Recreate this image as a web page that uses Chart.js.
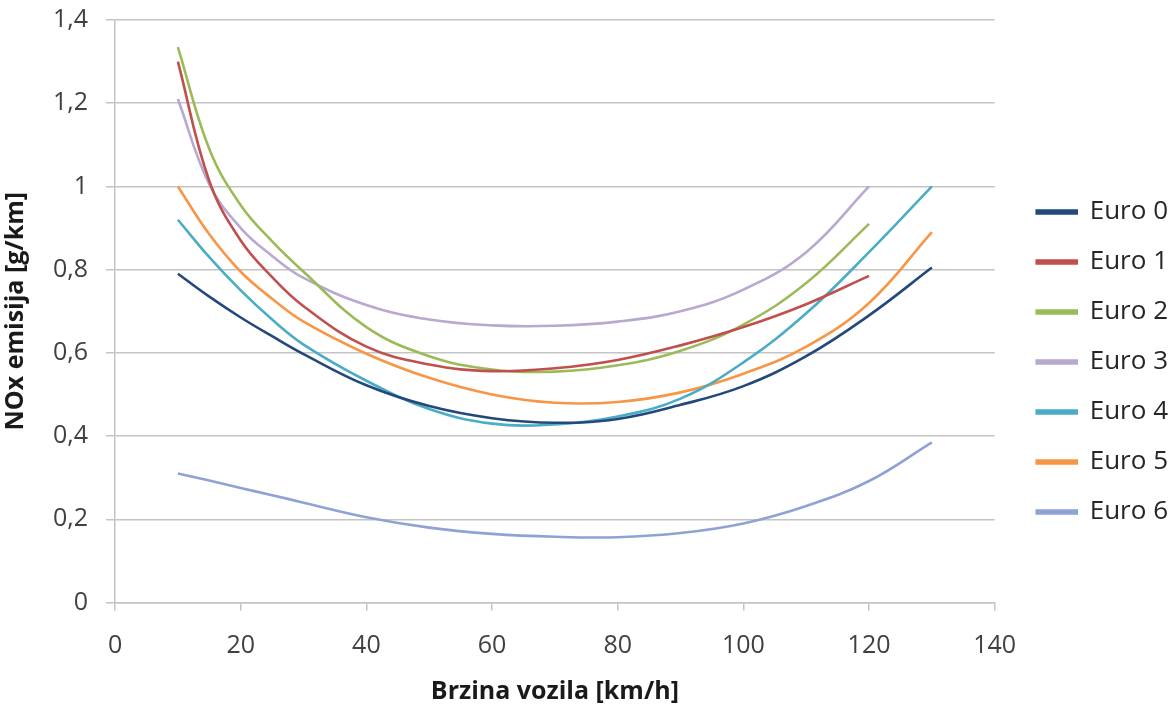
<!DOCTYPE html>
<html>
<head>
<meta charset="utf-8">
<script src="https://cdn.jsdelivr.net/npm/chart.js@4/dist/chart.umd.min.js"></script>
<style>
	html, body { margin: 0; padding: 0; background: #fff; }
	#wrap { width: 1176px; height: 704px; }
</style>
</head>
<body>
<div id="wrap"><canvas id="chart" width="1176" height="704"></canvas></div>
<script>
// speeds in km/h (x values)
const speeds = [10, 15, 20, 25, 30, 40, 50, 60, 70, 80, 90, 100, 110, 120, 130];

// NOx emission in g/km
const euro0 = [0.79, 0.735, 0.685, 0.64, 0.597, 0.522, 0.472, 0.443, 0.432, 0.441, 0.475, 0.52, 0.592, 0.69, 0.805];
const euro1 = [1.3, 1.013, 0.87, 0.782, 0.712, 0.615, 0.572, 0.556, 0.563, 0.583, 0.618, 0.662, 0.717, 0.785];
const euro2 = [1.335, 1.09, 0.955, 0.868, 0.795, 0.662, 0.592, 0.56, 0.555, 0.57, 0.605, 0.668, 0.768, 0.91];
const euro3 = [1.21, 1.005, 0.9, 0.833, 0.78, 0.715, 0.68, 0.666, 0.665, 0.675, 0.7, 0.752, 0.842, 1.0];
const euro4 = [0.92, 0.83, 0.75, 0.68, 0.62, 0.533, 0.465, 0.43, 0.428, 0.447, 0.49, 0.577, 0.695, 0.842, 1.0];
const euro5 = [1.0, 0.885, 0.795, 0.73, 0.675, 0.598, 0.54, 0.5, 0.48, 0.482, 0.505, 0.55, 0.615, 0.72, 0.89];
const euro6 = [0.31, 0.293, 0.275, 0.258, 0.24, 0.205, 0.18, 0.165, 0.158, 0.157, 0.167, 0.19, 0.232, 0.292, 0.385];

const seriesNames = ["Euro 0", "Euro 1", "Euro 2", "Euro 3", "Euro 4", "Euro 5", "Euro 6"];
const seriesValues = [euro0, euro1, euro2, euro3, euro4, euro5, euro6];
const seriesColors = ["#22497A", "#C0504D", "#9BBB59", "#B9A8D0", "#4BACC6", "#F79646", "#8FA2D4"];

const xTicks = [0, 140, 20];   // min, max, step
const yTicks = [0, 1.4, 0.2];

const formatComma = (v) => String(Math.round(v * 10) / 10).replace(".", ",");

const buildDatasets = () => {
	return seriesNames.map((name, i) => {
		const values = seriesValues[i];
		return {
			label: name,
			data: values.map((v, j) => ({ x: speeds[j], y: v })),
			borderColor: seriesColors[i],
			backgroundColor: seriesColors[i],
			borderWidth: 2.6,
			pointRadius: 0,
			tension: 0.4,
			fill: false,
		};
	});
};

// push the legend a bit away from the plot, like in the original
const legendShift = {
	id: "legendShift",
	afterLayout(chart) {
		chart.legend.left += 18;
		chart.legend.right += 18;
	},
};

const fontFamily = "'Open Sans', sans-serif";
const gridColor = "#C4C4C4";

const config = {
	type: "line",
	data: { datasets: buildDatasets() },
	options: {
		responsive: false,
		animation: false,
		layout: {
			padding: { top: 20, right: 16, bottom: 0, left: 1 },
		},
		scales: {
			x: {
				type: "linear",
				min: xTicks[0],
				max: xTicks[1],
				ticks: {
					stepSize: xTicks[2],
					color: "#404040",
					padding: 20,
					font: { family: fontFamily, size: 25 },
				},
				grid: {
					drawOnChartArea: false,
					drawTicks: true,
					tickLength: 8,
					color: gridColor,
					lineWidth: 1.5,
				},
				border: { color: gridColor, width: 1.5 },
				title: {
					display: true,
					text: "Brzina vozila [km/h]",
					color: "#1a1a1a",
					font: { family: fontFamily, size: 25, weight: "bold", lineHeight: 0.94 },
					padding: { top: 0, bottom: 0 },
				},
			},
			y: {
				min: yTicks[0],
				max: yTicks[1],
				afterFit: (scale) => {
					scale.paddingTop = 0;
				},
				ticks: {
					stepSize: yTicks[2],
					color: "#404040",
					padding: 18,
					font: { family: fontFamily, size: 25 },
					callback: (value) => formatComma(value),
				},
				grid: {
					drawTicks: true,
					tickLength: 9,
					color: gridColor,
					lineWidth: 1.5,
				},
				border: { color: gridColor, width: 1.5 },
				title: {
					display: true,
					text: "NOx emisija [g/km]",
					color: "#1a1a1a",
					font: { family: fontFamily, size: 25, weight: "bold" },
					padding: { top: 0, bottom: 4 },
				},
			},
		},
		plugins: {
			legend: {
				display: true,
				position: "right",
				align: "center",
				labels: {
					boxWidth: 40,
					boxHeight: 3,
					padding: 24,
					color: "#262626",
					font: { family: fontFamily, size: 26 },
				},
			},
			tooltip: { enabled: false },
		},
	},
	plugins: [legendShift],
};

const lineChart = new Chart(document.getElementById("chart"), config);
</script>
</body>
</html>
